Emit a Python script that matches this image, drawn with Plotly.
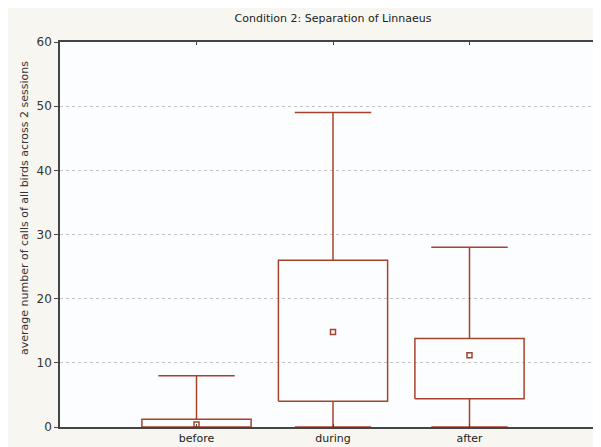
import plotly.graph_objects as go

categories = ["before", "during", "after"]
positions = [1, 2, 3]
mins = [0, 0, 0]
q1 = [0, 4.0, 4.4]
q3 = [1.2, 26.0, 13.8]
maxs = [8, 49, 28]
medians = [0.4, 14.8, 11.2]

line_color = "#a6432d"
box_half = 0.4
cap_half = 0.28

xs, ys = [], []
for p, lo, a, b, hi in zip(positions, mins, q1, q3, maxs):
    # box
    xs += [p - box_half, p + box_half, p + box_half, p - box_half, p - box_half, None]
    ys += [a, a, b, b, a, None]
    # upper whisker + cap
    xs += [p, p, None, p - cap_half, p + cap_half, None]
    ys += [b, hi, None, hi, hi, None]
    # lower whisker + cap
    if a > lo:
        xs += [p, p, None, p - cap_half, p + cap_half, None]
        ys += [a, lo, None, lo, lo, None]

fig = go.Figure()
fig.add_trace(go.Scatter(x=xs, y=ys, mode="lines",
                         line=dict(color=line_color, width=1.5),
                         hoverinfo="skip", showlegend=False))
fig.add_trace(go.Scatter(x=positions, y=medians, mode="markers",
                         marker=dict(symbol="square-open", size=5,
                                     color=line_color, line=dict(width=1.5, color=line_color)),
                         showlegend=False))

font_family = "DejaVu Sans, Verdana, sans-serif"
fig.update_layout(
    width=601, height=447,
    margin=dict(l=52, r=3, t=34, b=28),
    paper_bgcolor="#f8f6f0",
    plot_bgcolor="#fcfdff",
    font=dict(family=font_family, size=11, color="#333333"),
    title=dict(text="Condition 2: Separation of Linnaeus", x=325 / 601, xanchor="center",
               y=1 - 10 / 447, yanchor="middle", font=dict(size=11, color="#222222")),
    xaxis=dict(range=[0, 4], tickvals=positions, ticktext=categories,
               showgrid=False, zeroline=False, showline=True, linecolor="#444444",
               linewidth=1.5, mirror="ticks", ticks="inside", ticklen=3,
               tickcolor="#444444", tickfont=dict(size=11, color="#222222"),
               automargin=False),
    yaxis=dict(range=[0, 60], tickvals=[0, 10, 20, 30, 40, 50, 60],
               showgrid=True, gridcolor="#c4c4c4", griddash="dot", gridwidth=1,
               zeroline=False, showline=True, linecolor="#444444", linewidth=1.5,
               mirror=True, ticks="outside", ticklen=4, tickcolor="#444444",
               tickfont=dict(size=12, color="#333333"), automargin=False),
    annotations=[dict(text="average number of calls of all birds across 2 sessions",
                      textangle=-90, xref="paper", yref="paper",
                      x=-36 / 546, y=(427 - 208) / 385, xanchor="center", yanchor="middle",
                      showarrow=False, font=dict(size=11, color="#333333"))],
)

fig.write_html("out.html")
